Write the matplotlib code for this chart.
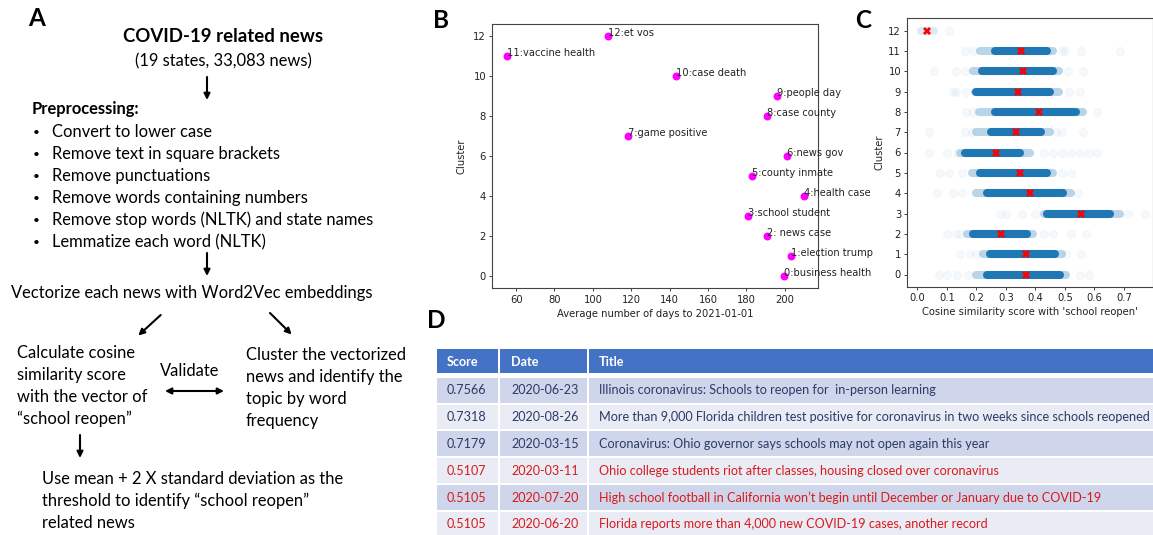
import matplotlib
matplotlib.use("Agg")
import matplotlib.pyplot as plt
import numpy as np
from matplotlib.patches import Rectangle

# ---------------- data ----------------
# Panel B
b_days = [199.8, 203.1, 190.8, 180.9, 209.8, 183.2, 201.0, 118.5, 190.6, 195.8, 143.5, 55.5, 108.1]
b_cluster = list(range(13))
b_labels = ["0:business health", "1:election trump", "2: news case", "3:school student",
            "4:health case", "5:county inmate", "6:news gov", "7:game positive",
            "8:case county", "9:people day", "10:case death", "11:vaccine health", "12:et vos"]

# Panel C (per cluster 0..12)
c_cluster = list(range(13))
c_mean = [0.367, 0.368, 0.283, 0.553, 0.383, 0.347, 0.268, 0.335, 0.411, 0.340, 0.357, 0.351, 0.034]
c_core_lo = [0.235, 0.246, 0.190, 0.438, 0.235, 0.213, 0.162, 0.250, 0.263, 0.200, 0.218, 0.263, np.nan]
c_core_hi = [0.483, 0.466, 0.370, 0.652, 0.494, 0.438, 0.348, 0.420, 0.539, 0.449, 0.460, 0.438, np.nan]
c_band_lo = [0.200, 0.224, 0.167, 0.430, 0.200, 0.185, 0.146, 0.200, 0.210, 0.195, 0.190, 0.213, 0.012]
c_band_hi = [0.505, 0.490, 0.392, 0.685, 0.520, 0.460, 0.382, 0.450, 0.560, 0.480, 0.480, 0.460, 0.058]
c_outliers = [
    [0.072, 0.100, 0.134, 0.173, 0.550, 0.580],
    [0.145, 0.180, 0.200, 0.505, 0.556],
    [0.100, 0.130, 0.145, 0.430, 0.460, 0.520, 0.573],
    [0.280, 0.300, 0.353, 0.400, 0.713, 0.770],
    [0.066, 0.120, 0.150, 0.545],
    [0.078, 0.106, 0.150, 0.490, 0.520],
    [0.040, 0.100, 0.135, 0.430, 0.460, 0.490, 0.520, 0.550, 0.580, 0.610],
    [0.040, 0.160, 0.185, 0.470, 0.490, 0.560],
    [0.165, 0.190, 0.610],
    [0.120, 0.130, 0.165, 0.515, 0.550],
    [0.055, 0.130, 0.160, 0.510, 0.560],
    [0.162, 0.190, 0.490, 0.500, 0.556, 0.685],
    [0.106],
]

# Panel D
d_header = ["Score", "Date", "Title"]
d_scores = ["0.7566", "0.7318", "0.7179", "0.5107", "0.5105", "0.5105"]
d_dates = ["2020-06-23", "2020-08-26", "2020-03-15", "2020-03-11", "2020-07-20", "2020-06-20"]
d_titles = [
    "Illinois coronavirus: Schools to reopen for  in-person learning",
    "More than 9,000 Florida children test positive for coronavirus in two weeks since schools reopened",
    "Coronavirus: Ohio governor says schools may not open again this year",
    "Ohio college students riot after classes, housing closed over coronavirus",
    "High school football in California won\u2019t begin until December or January due to COVID-19",
    "Florida reports more than 4,000 new COVID-19 cases, another record",
]
d_flag_red = [False, False, False, True, True, True]

# ---------------- figure ----------------
W, H = 1153, 535
fig = plt.figure(figsize=(W / 100, H / 100), dpi=100)
fig.patch.set_facecolor("white")

ov = fig.add_axes([0, 0, 1, 1], zorder=-1)
ov.set_xlim(0, W)
ov.set_ylim(H, 0)
ov.axis("off")
ov.patch.set_alpha(0)

SANS = ["Lato", "DejaVu Sans"]
fsA = 11.9

def t(x, y, s, **kw):
    kw.setdefault("fontsize", fsA)
    kw.setdefault("family", SANS)
    kw.setdefault("va", "center")
    kw.setdefault("ha", "left")
    ov.text(x, y, s, **kw)

def arrow(x0, y0, x1, y1, both=False):
    ov.annotate("", xy=(x1, y1), xytext=(x0, y0),
                arrowprops=dict(arrowstyle="<|-|>" if both else "-|>", lw=1.5,
                                color="black", mutation_scale=9, shrinkA=0, shrinkB=0))

# ----- Panel A -----
t(28, 19, "A", fontsize=17.5, weight="bold")
t(223, 37, "COVID-19 related news", ha="center", weight="bold", fontsize=13.4)
t(223, 61, "(19 states, 33,083 news)", ha="center")
arrow(207, 77, 207, 100)
t(32, 109, "Preprocessing:", weight="bold")
pre = ["Convert to lower case", "Remove text in square brackets", "Remove punctuations",
       "Remove words containing numbers", "Remove stop words (NLTK) and state names",
       "Lemmatize each word (NLTK)"]
for i, s in enumerate(pre):
    y = 132 + i * 22
    t(33, y, "\u2022", fontsize=8.5)
    t(52, y, s)
arrow(207, 253, 207, 276)
t(11, 293, "Vectorize each news with Word2Vec embeddings")
arrow(160.7, 315, 138.3, 335.5)
arrow(270, 313, 291.7, 334.5)
left_block = ["Calculate cosine", "similarity score", "with the vector of", "\u201cschool reopen\u201d"]
for i, s in enumerate(left_block):
    t(17, 353 + i * 22, s)
right_block = ["Cluster the vectorized", "news and identify the", "topic by word", "frequency"]
for i, s in enumerate(right_block):
    t(246, 355 + i * 22, s)
t(190, 371, "Validate", ha="center")
arrow(165, 391, 224, 391, both=True)
arrow(80, 435, 80, 458)
bottom_block = ["Use mean + 2 X standard deviation as the",
                "threshold to identify \u201cschool reopen\u201d", "related news"]
for i, s in enumerate(bottom_block):
    t(42, 479 + i * 22, s)

# ----- Panel D -----
t(427, 321, "D", fontsize=17.5, weight="bold")
col_x = [(437, 498.3), (500.3, 586.7), (588.7, 1160)]
text_x = [447, 511, 599]
hdr_color = "#4472C4"
row_colors = ["#CFD5EA", "#E9EBF5"]
fsD = 9.1
for (x0, x1), tx, s in zip(col_x, text_x, d_header):
    ov.add_patch(Rectangle((x0, 349.3), x1 - x0, 24, facecolor=hdr_color, edgecolor="none"))
    t(tx, 361.5, s, color="white", weight="bold", fontsize=fsD)
for i in range(len(d_scores)):
    top = 377.7 + i * 26.8
    col = "#D81B1B" if d_flag_red[i] else "#2C3A66"
    vals = [d_scores[i], d_dates[i], d_titles[i]]
    for (x0, x1), tx, s in zip(col_x, text_x, vals):
        ov.add_patch(Rectangle((x0, top), x1 - x0, 24.8, facecolor=row_colors[i % 2], edgecolor="none"))
        t(tx, top + 12.6, s, color=col, fontsize=fsD)

# ----- Panel B -----
fsB = 7.2
axB = fig.add_axes([492.3 / W, 1 - 288.3 / H, (818.3 - 492.3) / W, (288.3 - 24) / H])
axB.scatter(b_days, b_cluster, s=22, color="#FF00FF", zorder=3)
for x, y, lab in zip(b_days, b_cluster, b_labels):
    axB.annotate(lab, (x, y), fontsize=7.1, color="#222222", family="DejaVu Sans", annotation_clip=False)
axB.set_xticks([60, 80, 100, 120, 140, 160, 180, 200])
axB.set_yticks([0, 2, 4, 6, 8, 10, 12])
axB.set_xlim(47.6, 217.5)
axB.set_ylim(-0.6, 12.6)
axB.set_xlabel("Average number of days to 2021-01-01", fontsize=fsB, labelpad=3, color="#222222")
axB.set_ylabel("Cluster", fontsize=fsB, labelpad=5, color="#222222")
axB.tick_params(labelsize=fsB, length=2.5, width=0.6, pad=2, colors="#222222")
for sp in axB.spines.values():
    sp.set_linewidth(0.8)
    sp.set_color("#444444")
fig.text(433 / W, 1 - 20 / H, "B", fontsize=17.5, weight="bold", family=SANS, va="center")

# ----- Panel C -----
axC = fig.add_axes([907.3 / W, 1 - 286.7 / H, (1153.5 - 907.3) / W, (286.7 - 18.3) / H])
blue = "#1f77b4"
lw_band = 5.8
for k in c_cluster:
    axC.scatter(c_outliers[k], [k] * len(c_outliers[k]), s=lw_band ** 2, color=blue,
                alpha=0.045, linewidths=0.6, zorder=1)
    axC.plot([c_band_lo[k], c_band_hi[k]], [k, k], color=blue, lw=lw_band,
             alpha=0.3 if k != 12 else 0.15, solid_capstyle="round", zorder=2)
    if not np.isnan(c_core_lo[k]):
        axC.plot([c_core_lo[k], c_core_hi[k]], [k, k], color=blue, lw=lw_band,
                 solid_capstyle="round", zorder=3)
axC.plot(c_mean, c_cluster, "X", color="red", markersize=5.2, markeredgewidth=0, zorder=4, linestyle="none")
axC.set_xlim(-0.034, 0.80)
axC.set_ylim(-0.6, 12.6)
axC.set_xticks([0.0, 0.1, 0.2, 0.3, 0.4, 0.5, 0.6, 0.7])
axC.set_xticklabels(["0.0", "0.1", "0.2", "0.3", "0.4", "0.5", "0.6", "0.7"])
axC.set_yticks(c_cluster)
axC.set_xlabel("Cosine similarity score with 'school reopen'", fontsize=fsB, labelpad=3, color="#222222")
axC.set_ylabel("Cluster", fontsize=fsB, labelpad=3, color="#222222")
axC.tick_params(labelsize=fsB, length=2.5, width=0.6, pad=2, colors="#222222")
for sp in axC.spines.values():
    sp.set_linewidth(0.8)
    sp.set_color("#444444")
fig.text(855 / W, 1 - 20 / H, "C", fontsize=17.5, weight="bold", family=SANS, va="center")

fig.savefig("out.png", dpi=100)
